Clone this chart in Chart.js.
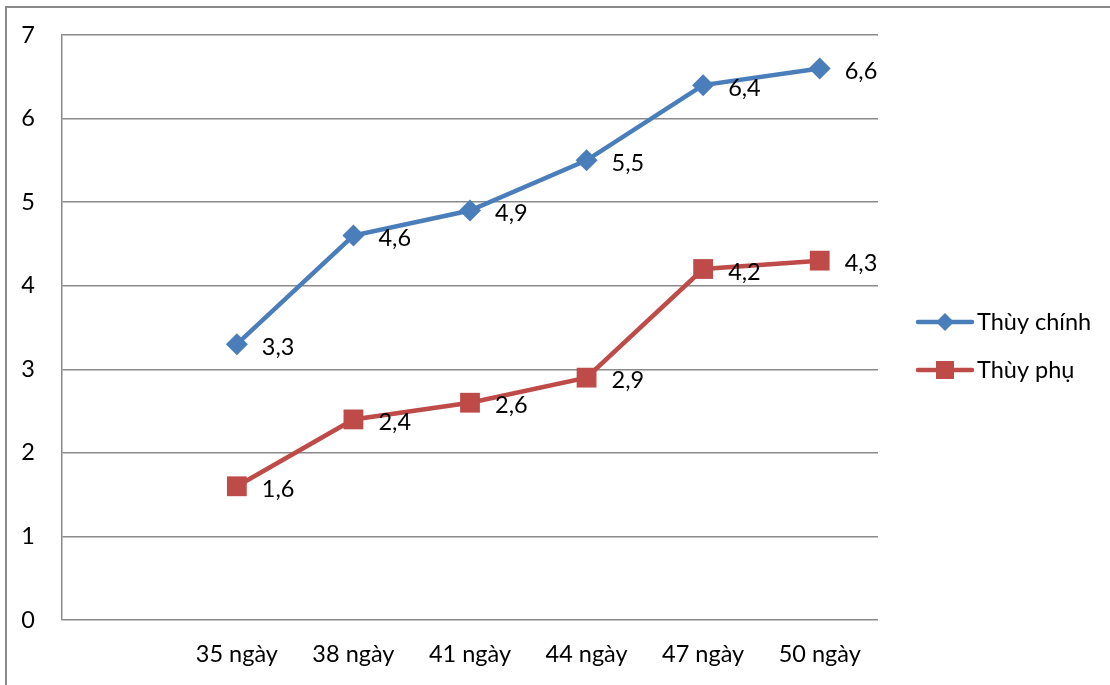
<!DOCTYPE html>
<html>
<head>
<meta charset="utf-8">
<script src="https://cdn.jsdelivr.net/npm/chart.js@4.4.1/dist/chart.umd.min.js"></script>
<style>
  html, body { margin: 0; padding: 0; background: #fff; overflow: hidden; }
  #wrap { position: relative; width: 1110px; height: 685px; }
  #frame { position: absolute; left: 5px; top: 6px; width: 1200px; height: 800px;
           border-top: 2px solid #8a8a8a; border-left: 2px solid #8a8a8a; }
  canvas { position: absolute; left: 0; top: 0; }
</style>
</head>
<body>
<div id="wrap">
  <div id="frame"></div>
  <canvas id="chart" width="1110" height="685"></canvas>
</div>
<script>
// data
const categories = ['', '35 ngày', '38 ngày', '41 ngày', '44 ngày', '47 ngày', '50 ngày'];
const seriesNames = ['Thùy chính', 'Thùy phụ'];
const thuyChinh = [null, 3.3, 4.6, 4.9, 5.5, 6.4, 6.6];
const thuyPhu = [null, 1.6, 2.4, 2.6, 2.9, 4.2, 4.3];
const yTicks = [0, 1, 2, 3, 4, 5, 6, 7];

const FONT = 'Lato, "Open Sans", sans-serif';
const FSIZE = 23.5;

/* ===============================
   DATA LABELS + LEGEND
================================ */
const labelPlugin = {
  id: 'valueLabels',
  afterDatasetsDraw(chart) {
    const ctx = chart.ctx;
    ctx.save();
    ctx.font = FSIZE + 'px ' + FONT;
    ctx.fillStyle = '#000';
    ctx.textAlign = 'left';
    ctx.textBaseline = 'middle';
    chart.data.datasets.forEach((ds, i) => {
      const meta = chart.getDatasetMeta(i);
      meta.data.forEach((pt, j) => {
        const v = ds.data[j];
        if (v === null) return;
        ctx.fillText(String(v).replace('.', ','), pt.x + 25, pt.y + 3);
      });
    });
    ctx.restore();
  }
};

const legendPlugin = {
  id: 'sideLegend',
  afterDraw(chart) {
    const ctx = chart.ctx;
    const x0 = 918, x1 = 972, rows = [322, 370];
    ctx.save();
    chart.data.datasets.forEach((ds, i) => {
      const y = rows[i];
      ctx.strokeStyle = ds.borderColor;
      ctx.lineWidth = 4.5;
      ctx.lineCap = 'round';
      ctx.beginPath();
      ctx.moveTo(x0, y);
      ctx.lineTo(x1, y);
      ctx.stroke();
      ctx.fillStyle = ds.backgroundColor;
      const cx = (x0 + x1) / 2;
      if (ds.pointStyle === 'rectRot') {
        ctx.beginPath();
        ctx.moveTo(cx, y - 9);
        ctx.lineTo(cx + 9, y);
        ctx.lineTo(cx, y + 9);
        ctx.lineTo(cx - 9, y);
        ctx.closePath();
        ctx.fill();
      } else {
        ctx.fillRect(cx - 9, y - 9, 18, 18);
      }
      ctx.fillStyle = '#000';
      ctx.font = FSIZE + 'px ' + FONT;
      ctx.textAlign = 'left';
      ctx.textBaseline = 'middle';
      ctx.fillText(ds.label, x1 + 5, y);
    });
    ctx.restore();
  }
};

new Chart(document.getElementById('chart'), {
  type: 'line',
  data: {
    labels: categories,
    datasets: [
      {
        label: seriesNames[0],
        data: thuyChinh,
        borderColor: '#4a7ebb',
        backgroundColor: '#4a7ebb',
        borderWidth: 4.5,
        pointStyle: 'rectRot',
        pointRadius: 11,
        pointBorderWidth: 0,
        tension: 0
      },
      {
        label: seriesNames[1],
        data: thuyPhu,
        borderColor: '#be4b48',
        backgroundColor: '#be4b48',
        borderWidth: 4.5,
        pointStyle: 'rect',
        pointRadius: 14,
        pointBorderWidth: 0,
        tension: 0
      }
    ]
  },
  options: {
    responsive: false,
    animation: false,
    layout: { padding: { top: 35, right: 232, bottom: 0, left: 0 } },
    plugins: {
      legend: { display: false },
      tooltip: { enabled: false }
    },
    scales: {
      x: {
        offset: true,
        grid: { display: false, offset: true },
        border: { display: false },
        ticks: {
          padding: 15,
          color: '#000',
          font: { family: FONT, size: FSIZE, lineHeight: 1 },
          maxRotation: 0,
          autoSkip: false
        },
        afterFit(scale) {
          scale.height = 65;
          scale.paddingLeft = 0;
          scale.paddingRight = 0;
        }
      },
      y: {
        min: 0,
        max: 7,
        afterBuildTicks(scale) { scale.ticks = yTicks.map(v => ({ value: v })); },
        grid: { color: '#8a8a8a', lineWidth: 1.5, drawTicks: false },
        border: { display: true, color: '#8a8a8a', width: 1.5 },
        ticks: {
          padding: 27,
          color: '#000',
          font: { family: FONT, size: FSIZE }
        },
        afterFit(scale) {
          scale.width = 62;
          scale.paddingTop = 0;
          scale.paddingBottom = 0;
        }
      }
    }
  },
  plugins: [labelPlugin, legendPlugin]
});
</script>
</body>
</html>
